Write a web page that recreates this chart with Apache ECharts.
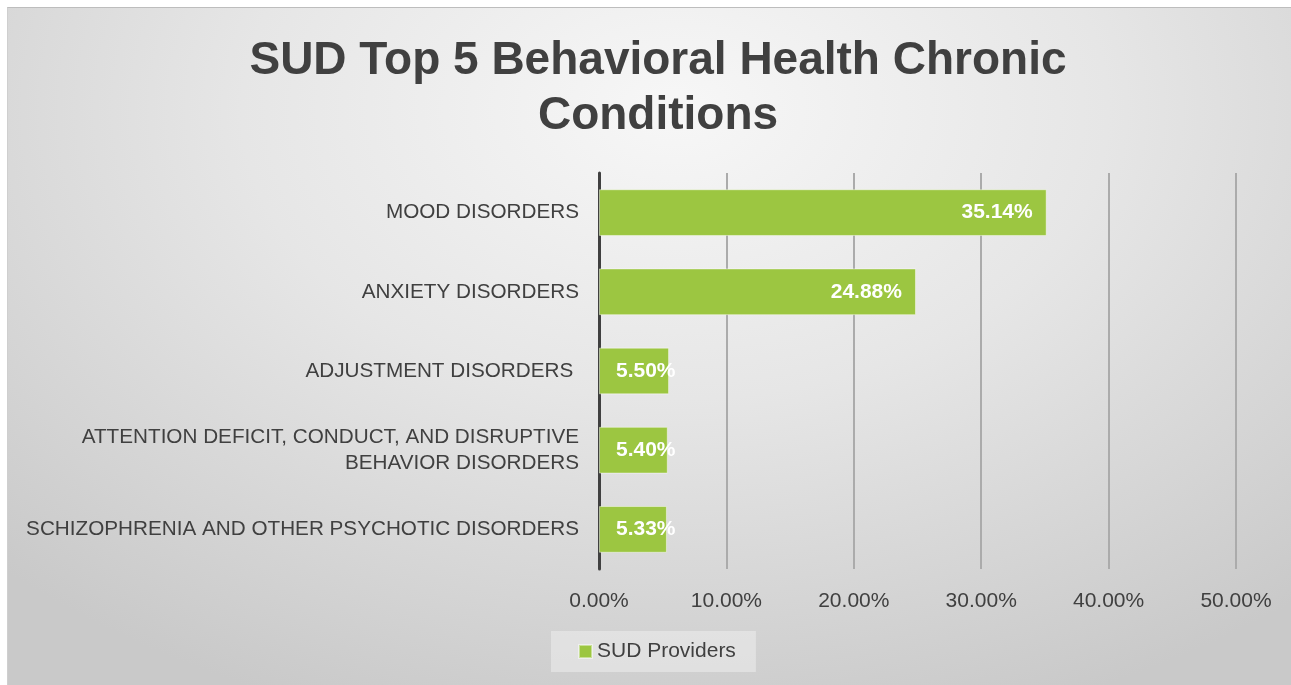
<!DOCTYPE html>
<html>
<head>
<meta charset="utf-8">
<script src="https://cdn.jsdelivr.net/npm/echarts@6/dist/echarts.min.js"></script>
<style>
html,body{margin:0;padding:0;background:#fff;}
#wrap{position:absolute;left:7px;top:7px;width:1284px;height:678px;
  background:radial-gradient(ellipse 75% 95% at 52% 15%, #f7f7f7 0%, #e6e6e6 45%, #c9c9c9 100%);
  border-top:1px solid #bdbdbd;border-left:1px solid #cfcfcf;box-sizing:border-box;}
#chart{position:absolute;left:-7px;top:-7px;width:1291px;height:685px;}
</style>
</head>
<body>
<div id="wrap"><div id="chart"></div></div>
<script>
const titleText = 'SUD Top 5 Behavioral Health Chronic\nConditions';
const categories = [
  'MOOD DISORDERS',
  'ANXIETY DISORDERS',
  'ADJUSTMENT DISORDERS ',
  'ATTENTION DEFICIT, CONDUCT, AND DISRUPTIVE\nBEHAVIOR DISORDERS',
  'SCHIZOPHRENIA AND OTHER PSYCHOTIC DISORDERS'
];
const seriesName = 'SUD Providers';
const values = [35.14, 24.88, 5.50, 5.40, 5.33];
const xTicks = [0, 10, 20, 30, 40, 50];

const font = 'Liberation Sans, Arial, sans-serif';
const chart = echarts.init(document.getElementById('chart'));
const data = values.map(v => ({
  value: v,
  label: v < 10 ? { position: 'insideLeft', distance: 17 } : { position: 'insideRight', distance: 14 }
}));
chart.setOption({
  backgroundColor: 'transparent',
  animation: false,
  title: {
    text: titleText,
    left: 652, top: 28, textAlign: 'center',
    textStyle: { fontFamily: font, fontWeight: 'bold', fontSize: 46, color: '#404040', lineHeight: 55 }
  },
  legend: {
    data: [seriesName],
    left: 550, top: 630,
    backgroundColor: 'rgba(255,255,255,0.35)',
    padding: [10, 20, 10, 27],
    itemWidth: 13, itemHeight: 13, itemGap: 4,
    icon: 'rect',
    textStyle: { fontFamily: font, fontSize: 21, color: '#404040' }
  },
  grid: { left: 598, right: 56, top: 172, bottom: 117, containLabel: false },
  xAxis: {
    type: 'value', min: 0, max: 50, interval: 10,
    axisLine: { show: false }, axisTick: { show: false },
    splitLine: { show: true, lineStyle: { color: '#ababab', width: 2 } },
    axisLabel: {
      margin: 22,
      fontFamily: font, fontSize: 21, color: '#404040',
      formatter: v => xTicks.includes(v) ? v.toFixed(2) + '%' : ''
    }
  },
  yAxis: {
    type: 'category', inverse: true, data: categories,
    axisLine: { show: true, lineStyle: { color: '#404040', width: 3 } },
    axisTick: { show: false },
    axisLabel: { margin: 20, fontFamily: font, fontSize: 20.7, color: '#404040', align: 'right', lineHeight: 26 }
  },
  series: [{
    name: seriesName,
    type: 'bar',
    data: data,
    barCategoryGap: '41%',
    itemStyle: { color: '#9cc641', borderColor: 'rgba(255,255,255,0.45)', borderWidth: 1 },
    label: {
      show: true,
      fontFamily: font, fontSize: 21, fontWeight: 'bold', color: '#ffffff',
      formatter: p => p.value.toFixed(2) + '%'
    }
  }]
});
</script>
</body>
</html>
